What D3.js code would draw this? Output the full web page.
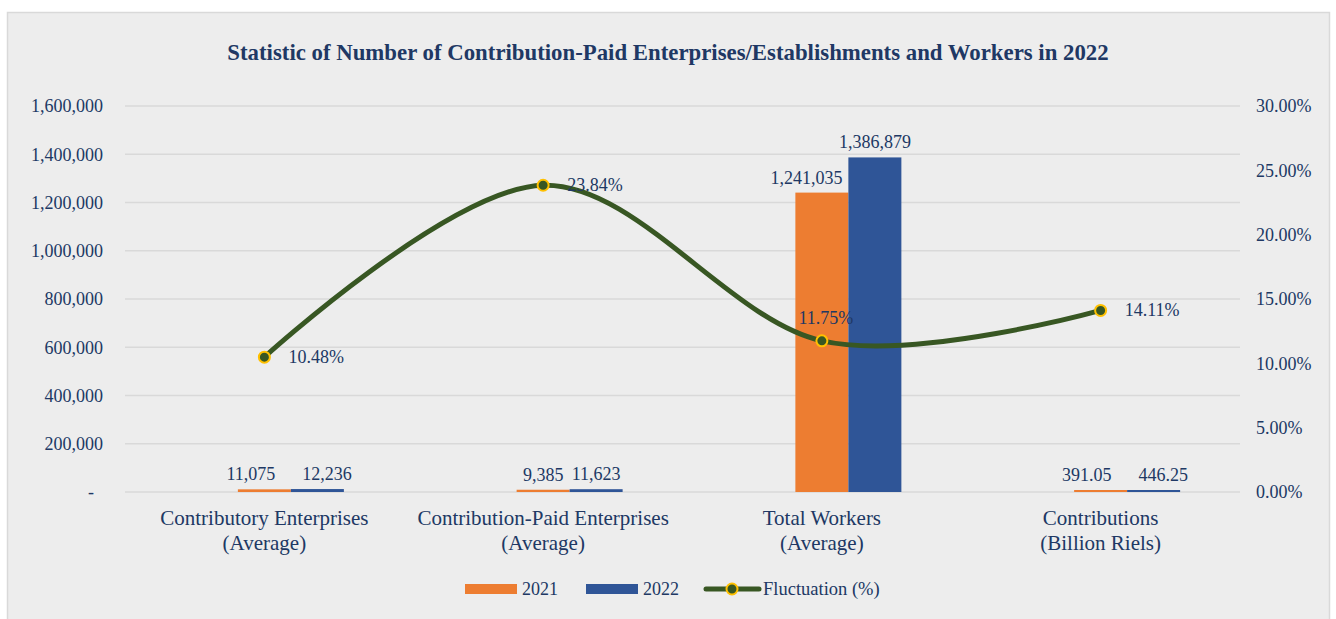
<!DOCTYPE html>
<html>
<head>
<meta charset="utf-8">
<script src="https://cdn.jsdelivr.net/npm/d3@7"></script>
<style>
  body { margin: 0; background: #ffffff; }
  svg text { font-family: "Liberation Serif", "Times New Roman", serif; fill: #203864; }
</style>
</head>
<body>
<svg id="chart" width="1336" height="619"></svg>
<script>
// chart data
const categories = [
    ["Contributory Enterprises", "(Average)"],
    ["Contribution-Paid Enterprises", "(Average)"],
    ["Total Workers", "(Average)"],
    ["Contributions", "(Billion Riels)"]
];
const values2021 = [11075, 9385, 1241035, 391.05];
const values2022 = [12236, 11623, 1386879, 446.25];
const labels2021 = ["11,075", "9,385", "1,241,035", "391.05"];
const labels2022 = ["12,236", "11,623", "1,386,879", "446.25"];
const fluctuation = [0.1048, 0.2384, 0.1175, 0.1411];
const leftTicks = [0, 200000, 400000, 600000, 800000, 1000000, 1200000, 1400000, 1600000];
const rightTicks = [0, 0.05, 0.10, 0.15, 0.20, 0.25, 0.30];

const orange = "#ED7D31";
const blue = "#2F5597";
const green = "#385723";
const gold = "#FFC000";

const svg = d3.select("#chart");

// panel background
svg.append("rect")
    .attr("x", 7.5).attr("y", 12.5)
    .attr("width", 1322).attr("height", 620)
    .attr("fill", "#EDEDED")
    .attr("stroke", "#D9D9D9")
    .attr("stroke-width", 1.5);

svg.append("text")
    .attr("x", 668).attr("y", 60)
    .attr("text-anchor", "middle")
    .style("font-size", "22.8px")
    .style("font-weight", "bold")
    .text("Statistic of Number of Contribution-Paid Enterprises/Establishments and Workers in 2022");

const plotLeft = 125, plotRight = 1240, plotTop = 106, plotBottom = 492;

const x0 = d3.scaleBand().domain(d3.range(categories.length)).range([plotLeft, plotRight]);
// first slot is an empty series, as in the original cluster
const x1 = d3.scaleBand().domain(["blank", "2021", "2022"]).range([0, 159]);
const groupOffset = x0.bandwidth() / 2 - 79.5;

const yLeft = d3.scaleLinear().domain([0, 1600000]).range([plotBottom, plotTop]);
const yRight = d3.scaleLinear().domain([0, 0.30]).range([plotBottom, plotTop]);

// gridlines
svg.append("g")
    .selectAll("line")
    .data(leftTicks)
    .enter()
    .append("line")
    .attr("x1", plotLeft).attr("x2", plotRight)
    .attr("y1", (d) => yLeft(d)).attr("y2", (d) => yLeft(d))
    .attr("stroke", "#D9D9D9")
    .attr("stroke-width", 1.5);

// left axis
const leftAxis = svg.append("g")
    .attr("transform", `translate(${plotLeft},0)`)
    .call(d3.axisLeft(yLeft).tickValues(leftTicks).tickSize(0).tickPadding(22)
        .tickFormat((d) => d === 0 ? "-" : d3.format(",")(d)));
leftAxis.select(".domain").remove();
leftAxis.selectAll("text").style("font-size", "18px").attr("fill", "#203864");
leftAxis.selectAll("text").filter((d) => d === 0).attr("dx", -9);

// right axis
const rightAxis = svg.append("g")
    .attr("transform", `translate(${plotRight},0)`)
    .call(d3.axisRight(yRight).tickValues(rightTicks).tickSize(0).tickPadding(16)
        .tickFormat(d3.format(".2%")));
rightAxis.select(".domain").remove();
rightAxis.selectAll("text").style("font-size", "18px").attr("fill", "#203864");

// x category labels
const xLabels = svg.append("g");
categories.forEach((lines, i) => {
    const t = xLabels.append("text")
        .attr("x", x0(i) + x0.bandwidth() / 2)
        .attr("y", 525)
        .attr("text-anchor", "middle")
        .style("font-size", "21px");
    lines.forEach((ln, j) => {
        t.append("tspan")
            .attr("x", x0(i) + x0.bandwidth() / 2)
            .attr("dy", j === 0 ? 0 : 24.5)
            .text(ln);
    });
});

// bars
const series = [
    { key: "2021", values: values2021, labels: labels2021, color: orange },
    { key: "2022", values: values2022, labels: labels2022, color: blue }
];

const labelNodes = { "2021": [], "2022": [] };

series.forEach((s) => {
    const g = svg.append("g");
    g.selectAll("rect")
        .data(s.values)
        .enter()
        .append("rect")
        .attr("x", (d, i) => x0(i) + groupOffset + x1(s.key))
        .attr("y", (d) => Math.min(yLeft(d), plotBottom - 2))
        .attr("width", x1.bandwidth())
        .attr("height", (d) => Math.max(plotBottom - yLeft(d), 2))
        .attr("fill", s.color);

    g.selectAll("text")
        .data(s.values)
        .enter()
        .append("text")
        .attr("y", (d) => Math.min(yLeft(d), plotBottom - 2) - 9)
        .attr("text-anchor", "middle")
        .style("font-size", "18px")
        .text((d, i) => s.labels[i])
        .each(function (d, i) {
            const barX = x0(i) + groupOffset + x1(s.key);
            let cx = barX + x1.bandwidth() / 2;
            if (s.key === "2021") {
                // keep the 2021 label clear of the neighbouring bar
                const w = this.getComputedTextLength();
                cx = Math.min(cx, barX + x1.bandwidth() - 6 - w / 2);
            }
            d3.select(this).attr("x", cx);
            labelNodes[s.key][i] = this;
        });
});

// push apart labels of short bars when both are wide
categories.forEach((c, i) => {
    const a = labelNodes["2021"][i], b = labelNodes["2022"][i];
    if (Math.abs(+a.getAttribute("y") - +b.getAttribute("y")) > 15) return;
    const wa = a.getComputedTextLength(), wb = b.getComputedTextLength();
    if (wa + wb < 2 * x1.bandwidth() - 12) return;
    const xa = +a.getAttribute("x"), xb = +b.getAttribute("x");
    const gap = (xb - wb / 2) - (xa + wa / 2);
    const shift = (27 - gap) / 2;
    a.setAttribute("x", xa - shift);
    b.setAttribute("x", xb + shift);
});

// fluctuation line
const pts = fluctuation.map((d, i) => [x0(i) + x0.bandwidth() / 2, yRight(d)]);
svg.append("path")
    .attr("d", d3.line().curve(d3.curveCardinal.tension(0))(pts))
    .attr("fill", "none")
    .attr("stroke", green)
    .attr("stroke-width", 5)
    .attr("stroke-linecap", "round");

svg.append("g")
    .selectAll("circle")
    .data(pts)
    .enter()
    .append("circle")
    .attr("cx", (d) => d[0]).attr("cy", (d) => d[1])
    .attr("r", 5.5)
    .attr("fill", green)
    .attr("stroke", gold)
    .attr("stroke-width", 2);

svg.append("g")
    .selectAll("text")
    .data(fluctuation)
    .enter()
    .append("text")
    .attr("x", (d, i) => i === 2 ? pts[i][0] + 4 : pts[i][0] + 24)
    .attr("y", (d, i) => i === 2 ? pts[i][1] - 17 : pts[i][1] + 6)
    .attr("text-anchor", (d, i) => i === 2 ? "middle" : "start")
    .style("font-size", "18px")
    .text((d) => d3.format(".2%")(d));

// legend
const legend = svg.append("g").attr("transform", "translate(0,589)");
legend.append("rect").attr("x", 465).attr("y", -5).attr("width", 52).attr("height", 10).attr("fill", orange);
legend.append("text").attr("x", 522).attr("y", 6).style("font-size", "18px").text("2021");
legend.append("rect").attr("x", 586).attr("y", -5).attr("width", 52).attr("height", 10).attr("fill", blue);
legend.append("text").attr("x", 643).attr("y", 6).style("font-size", "18px").text("2022");
legend.append("line").attr("x1", 706).attr("x2", 759).attr("y1", 0).attr("y2", 0)
    .attr("stroke", green).attr("stroke-width", 5).attr("stroke-linecap", "round");
legend.append("circle").attr("cx", 732).attr("cy", 0).attr("r", 5.5)
    .attr("fill", green).attr("stroke", gold).attr("stroke-width", 2);
legend.append("text").attr("x", 763).attr("y", 6).style("font-size", "18.5px").text("Fluctuation (%)");
</script>
</body>
</html>
